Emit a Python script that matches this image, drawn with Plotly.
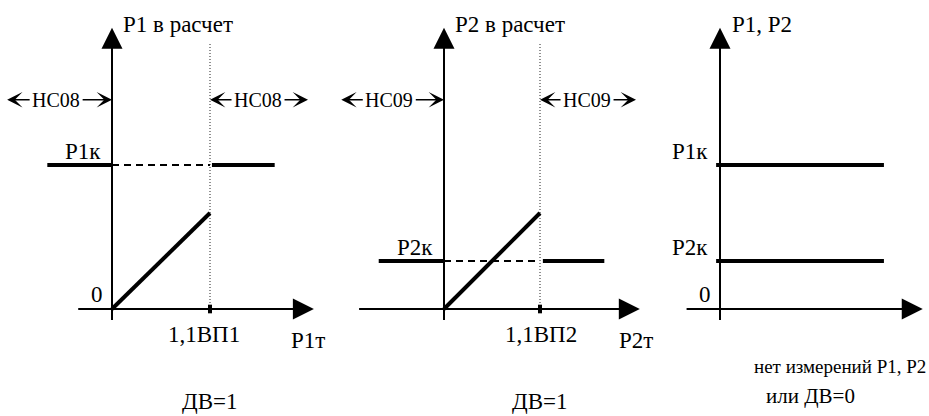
import plotly.graph_objects as go

# ---------------- data (diagram units) ----------------
# x: 1 unit = 1,1ВП (break point), y: 1 unit = value of the ramp at the break point
break_x = 1.0
ramp_x = [0.0, 1.0]
ramp_y = [0.0, 1.0]
p1k_level = 1.5
p2k_level = 0.5

p1_left_x = [-0.66, 0.0]
p1_right_x = [1.02, 1.66]
p2_left_x = [-0.68, 0.0]
p2_right_x = [1.03, 1.67]
p3_line_x = [-0.04, 1.69]

x_axis_ext = [[-0.36, 2.06], [-0.90, 2.04], [-0.36, 2.09]]
y_axis_ext = [-0.13, 2.93]
dotted_top = 2.77

hc_left = [-1.07, -0.57, 0.0]     # left tip, label centre, right tip
hc_right = [1.0, 1.49, 2.0]
hc_level = 2.18

hc_labels = ["НС08", "НС09"]
y_titles = ["Р1 в расчет", "Р2 в расчет", "Р1, Р2"]
x_titles = ["Р1т", "Р2т"]
bp_labels = ["1,1ВП1", "1,1ВП2"]
captions = ["ДВ=1", "ДВ=1"]
caption3 = ["нет измерений Р1, Р2", "или ДВ=0"]

# ---------------- layout geometry (pixels) ----------------
W, H = 929, 416
dom_px = [(0, 330), (330, 660), (660, 929)]
origin_px = [112, 444, 720]
sx = [98, 96, 97]
oy, sy = 309, 96

FONT = "'Liberation Serif', 'Times New Roman', serif"
BLACK = "#000000"

fig = go.Figure()
ann = []

def xr(i):
    return "x" if i == 0 else f"x{i+1}"

def line(i, xs, ys, width, dash="solid", color=BLACK):
    fig.add_trace(go.Scatter(x=xs, y=ys, mode="lines", xaxis=xr(i), yaxis="y",
                             line=dict(color=color, width=width, dash=dash),
                             hoverinfo="skip", showlegend=False))

def text(i, x, y, s, size=23, xanchor="center", yanchor="middle"):
    ann.append(dict(x=x, y=y, xref=xr(i), yref="y", text=s, showarrow=False,
                    xanchor=xanchor, yanchor=yanchor,
                    font=dict(family=FONT, size=size, color=BLACK)))

def arrow(i, x0, y0, x1, y1):
    ann.append(dict(x=x1, y=y1, ax=x0, ay=y0, xref=xr(i), yref="y",
                    axref=xr(i), ayref="y", text="", showarrow=True,
                    arrowhead=2, arrowsize=2.1, arrowwidth=2, arrowcolor=BLACK,
                    standoff=0, startstandoff=0))

def hc(i, label, tips):
    for k, tip in enumerate((tips[0], tips[2])):
        ann.append(dict(x=tip, y=hc_level, ax=tips[1], ay=hc_level,
                        xref=xr(i), yref="y", axref=xr(i), ayref="y",
                        text=label, showarrow=True, arrowhead=3, arrowsize=1.6,
                        arrowwidth=1.6, arrowcolor=BLACK, standoff=0,
                        borderpad=2,
                        font=dict(family=FONT, size=20,
                                  color=BLACK if k == 0 else "rgba(0,0,0,0)")))

# axes of the three panels
for i in range(3):
    arrow(i, 0, y_axis_ext[0], 0, y_axis_ext[1])
    arrow(i, x_axis_ext[i][0], 0, x_axis_ext[i][1], 0)

# panels 1 and 2
levels = [p1k_level, p2k_level]
lefts = [p1_left_x, p2_left_x]
rights = [p1_right_x, p2_right_x]
for i in range(2):
    line(i, [break_x, break_x], [0, dotted_top], 1, "1px,2px", "#222222")
    line(i, lefts[i], [levels[i]] * 2, 4)
    line(i, [0, break_x], [levels[i]] * 2, 2, "7px,5px")
    line(i, rights[i], [levels[i]] * 2, 4)
    line(i, ramp_x, ramp_y, 4)
    line(i, [break_x, break_x], [-0.045, 0.045], 4)
    hc(i, hc_labels[i], hc_left)
    hc(i, hc_labels[i], hc_right)
    text(i, 0.09, 2.96, y_titles[i], xanchor="left")
    text(i, -0.30, levels[i] + 0.14, "Р%dк" % (i + 1))
    text(i, break_x - 0.06 + 0.07 * i, -0.27, bp_labels[i])
    text(i, 2.0, -0.33, x_titles[i])
    text(i, break_x, -0.96, captions[i])
text(0, -0.15, 0.15, "0")

# panel 3
line(2, p3_line_x, [p1k_level] * 2, 4)
line(2, p3_line_x, [p2k_level] * 2, 4)
text(2, 0.1, 2.96, y_titles[2], xanchor="left")
text(2, -0.31, p1k_level + 0.14, "Р1к")
text(2, -0.31, p2k_level + 0.14, "Р2к")
text(2, -0.155, 0.15, "0")
text(2, 1.235, -0.6, caption3[0], size=19)
text(2, 0.93, -0.91, caption3[1], size=21)

layout = dict(width=W, height=H, margin=dict(l=0, r=0, t=0, b=0),
              paper_bgcolor="white", plot_bgcolor="white",
              showlegend=False, annotations=ann)
ya = dict(range=[(oy - H) / sy, oy / sy], domain=[0, 1], visible=False,
          fixedrange=True)
layout["yaxis"] = ya
for i in range(3):
    d0, d1 = dom_px[i]
    key = "xaxis" if i == 0 else f"xaxis{i+1}"
    layout[key] = dict(domain=[d0 / W, d1 / W],
                       range=[(d0 - origin_px[i]) / sx[i], (d1 - origin_px[i]) / sx[i]],
                       visible=False, fixedrange=True, anchor="y")
fig.update_layout(**layout)
fig.write_html("out.html", config=dict(displayModeBar=False),
               post_script="document.body.style.margin='0';document.body.style.overflow='hidden';")
